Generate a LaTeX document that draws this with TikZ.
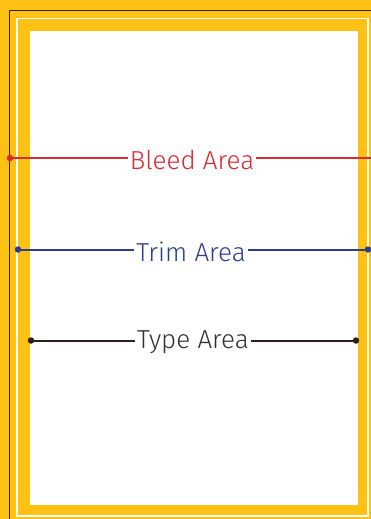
\documentclass[tikz,border=0pt]{standalone}
\usepackage{fontspec}
\setmainfont{Fira Sans Light}
\definecolor{ayellow}{HTML}{FFC214}
\definecolor{ared}{HTML}{D62B35}
\definecolor{ablue}{HTML}{2C3F8C}
\definecolor{adark}{HTML}{2A2218}
\definecolor{atext}{HTML}{333333}
\tikzset{
  dotnode/.style={circle,fill=#1,inner sep=0pt,minimum size=6.5pt},
  lbl/.style={fill=white,inner xsep=2pt,inner ysep=1pt,font=\fontsize{26}{28}\selectfont},
  conn/.style={line width=2pt,draw=#1}
}
\begin{document}
\begin{tikzpicture}[x=1pt,y=-1pt]
\useasboundingbox (0,0) rectangle (371,519);
\fill[ayellow] (0,0) rectangle (371,519);
% bleed line
\draw[adark,line width=1.6pt] (9.5,540) -- (9.5,10.5) -- (390,10.5);
% trim line
\draw[white,line width=1.4pt] (17,516) rectangle (368,18.5);
% type area
\fill[white] (30,31) rectangle (358,505);
% Bleed
\node[dotnode=ared] (b1) at (10,158) {};
\coordinate (b2) at (371,158);
\draw[conn=ared] (b1) -- (b2);
\node[lbl,text=ared] (bt) at (192,160) {Bleed Area};
% Trim
\node[dotnode=ablue] (t1) at (18,249.5) {};
\node[dotnode=ablue] (t2) at (368,249.5) {};
\draw[conn=ablue] (t1) -- (t2);
\node[lbl,text=ablue] (tt) at (191,251.5) {Trim Area};
% Type
\node[dotnode=adark] (y1) at (31,340.5) {};
\node[dotnode=adark] (y2) at (356,340.5) {};
\draw[conn=adark] (y1) -- (y2);
\node[lbl,text=atext] (yt) at (193,342.5) {Type Area};
\end{tikzpicture}
\end{document}
